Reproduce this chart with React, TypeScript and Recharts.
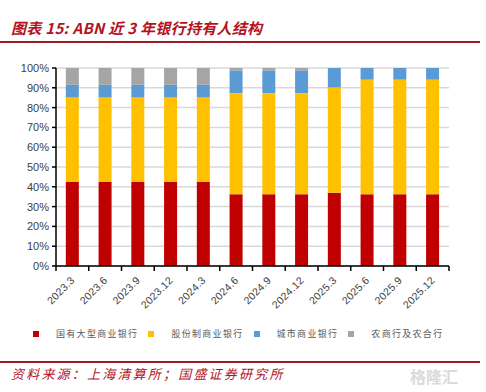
import React from 'react';
import { Bar, BarChart, CartesianGrid, XAxis, YAxis } from 'recharts';

const periods = [
  '2023.3', '2023.6', '2023.9', '2023.12', '2024.3', '2024.6',
  '2024.9', '2024.12', '2025.3', '2025.6', '2025.9', '2025.12',
];

// 国有大型商业银行
const stateOwned = [42.4, 42.4, 42.4, 42.4, 42.4, 36.3, 36.3, 36.3, 37.0, 36.3, 36.3, 36.3];
// 股份制商业银行
const jointStock = [42.7, 42.7, 42.7, 42.7, 42.7, 51.0, 51.0, 51.0, 53.2, 57.8, 57.8, 57.8];
// 城市商业银行
const cityBanks = [6.4, 6.4, 6.4, 6.4, 6.4, 11.5, 11.5, 11.5, 9.8, 5.9, 5.9, 5.9];
// 农商行及农合行
const ruralBanks = [8.5, 8.5, 8.5, 8.5, 8.5, 1.2, 1.2, 1.2, 0, 0, 0, 0];

const yTicks = [0, 10, 20, 30, 40, 50, 60, 70, 80, 90, 100];

const series = [
  { key: 'stateOwned', name: '国有大型商业银行', color: '#C00000' },
  { key: 'jointStock', name: '股份制商业银行', color: '#FFC000' },
  { key: 'cityBanks', name: '城市商业银行', color: '#5B9BD5' },
  { key: 'ruralBanks', name: '农商行及农合行', color: '#A5A5A5' },
];

const data = periods.map((p, i) => ({
  period: p,
  stateOwned: stateOwned[i],
  jointStock: jointStock[i],
  cityBanks: cityBanks[i],
  ruralBanks: ruralBanks[i],
}));

const W = 486;
const H = 392;
const PLOT_LEFT = 56;
const PLOT_RIGHT = 449;
const HALF_BAND = (PLOT_RIGHT - PLOT_LEFT) / periods.length / 2;

const cjk = '"Noto Sans CJK SC", "Noto Sans", sans-serif';
const latin = 'Arial, "Liberation Sans", sans-serif';

function PeriodTick(props: any) {
  const { x, y, payload, index } = props;
  const last = index === periods.length - 1;
  return (
    <g>
      <line x1={x - HALF_BAND} x2={x - HALF_BAND} y1={y - 8} y2={y - 3} stroke="#000" strokeWidth={1.5} />
      {last && (
        <line x1={x + HALF_BAND} x2={x + HALF_BAND} y1={y - 8} y2={y - 3} stroke="#000" strokeWidth={1.5} />
      )}
      <text
        x={x + 3}
        y={y + 7}
        textAnchor="end"
        fontSize={10.5}
        fill="#404040"
        fontFamily={latin}
        letterSpacing={0.3}
        transform={`rotate(-45, ${x + 3}, ${y + 7})`}
      >
        {payload.value}
      </text>
    </g>
  );
}

export default function App() {
  return (
    <div style={{ position: 'fixed', left: 0, top: 0, width: W, height: H, background: '#fff', overflow: 'hidden' }}>
      <div
        style={{
          position: 'absolute', left: 11, top: 17, fontFamily: cjk, fontSize: 15,
          fontWeight: 700, fontStyle: 'italic', color: '#B4121E', whiteSpace: 'nowrap', letterSpacing: 0.3,
        }}
      >
        图表 15: ABN 近 3 年银行持有人结构
      </div>
      <div style={{ position: 'absolute', left: 0, top: 41, width: 480, height: 2, background: '#9E1B2A' }} />

      <div style={{ position: 'absolute', left: 0, top: 0 }}>
        <BarChart
          width={W}
          height={320}
          data={data}
          margin={{ top: 68, right: W - PLOT_RIGHT, bottom: 0, left: 0 }}
          barCategoryGap="30%"
        >
          <CartesianGrid vertical={false} stroke="#D9D9D9" strokeWidth={1.5} />
          <YAxis
            width={PLOT_LEFT}
            domain={[0, 100]}
            ticks={yTicks}
            tickFormatter={(v: number) => `${v}%`}
            tick={{ fontSize: 11, fill: '#404040', fontFamily: latin }}
            tickSize={4}
            tickMargin={3}
            axisLine={{ stroke: '#000', strokeWidth: 1.5 }}
            tickLine={{ stroke: '#000', strokeWidth: 1.5 }}
            interval={0}
          />
          <XAxis
            dataKey="period"
            height={54}
            interval={0}
            tickLine={false}
            axisLine={{ stroke: '#000', strokeWidth: 1.5 }}
            tick={<PeriodTick />}
          />
          {series.map((s) => (
            <Bar key={s.key} dataKey={s.key} name={s.name} stackId="a" fill={s.color} isAnimationActive={false} />
          ))}
        </BarChart>
      </div>

      <div
        style={{
          position: 'absolute', left: 33, top: 327, display: 'flex', alignItems: 'center',
          fontFamily: cjk, fontSize: 9, color: '#595959', letterSpacing: 1.3, whiteSpace: 'nowrap',
        }}
      >
        {series.map((s, i) => (
          <div key={s.key} style={{ display: 'flex', alignItems: 'center', marginRight: i === series.length - 1 ? 0 : 10 }}>
            <span style={{ display: 'inline-block', width: 6, height: 6, background: s.color, marginRight: 17 }} />
            <span>{s.name}</span>
          </div>
        ))}
      </div>

      <div style={{ position: 'absolute', left: 0, top: 361, width: 480, height: 1.5, background: '#9E1B2A' }} />
      <div
        style={{
          position: 'absolute', left: 11, top: 364, fontFamily: cjk, fontSize: 13, fontStyle: 'italic',
          color: '#B4121E', letterSpacing: 2.2, whiteSpace: 'nowrap',
        }}
      >
        资料来源：上海清算所；国盛证券研究所
      </div>
      <div
        style={{
          position: 'absolute', left: 410, top: 364, fontFamily: cjk, fontSize: 16, fontWeight: 700,
          color: '#DADADA', whiteSpace: 'nowrap',
        }}
      >
        格隆汇
      </div>
    </div>
  );
}
